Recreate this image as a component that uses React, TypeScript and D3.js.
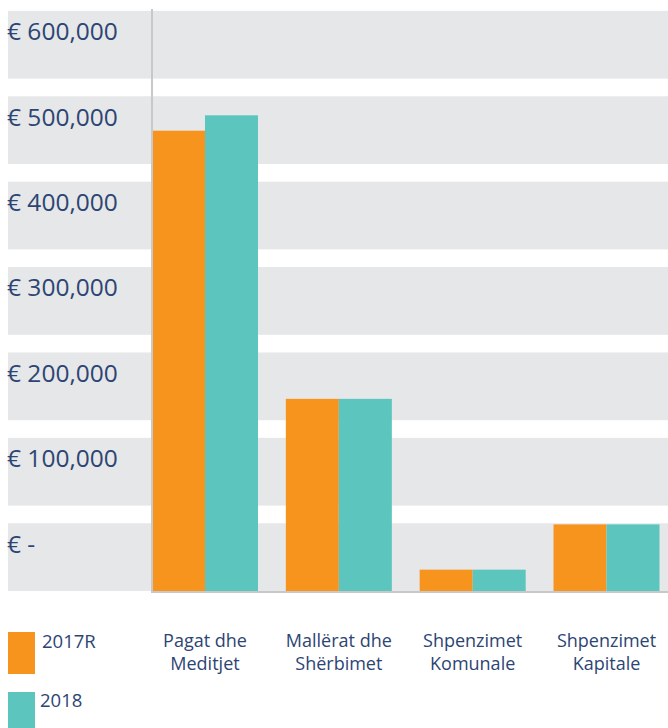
import React from "react";
import * as d3 from "d3";

const categories = [
  ["Pagat dhe", "Meditjet"],
  ["Mallërat dhe", "Shërbimet"],
  ["Shpenzimet", "Komunale"],
  ["Shpenzimet", "Kapitale"],
];
const seriesNames = ["2017R", "2018"];
const values2017R = [539000, 225000, 25000, 78000];
const values2018 = [557000, 225000, 25000, 78000];
const tickValues = [0, 100000, 200000, 300000, 400000, 500000, 600000];
const tickLabels = ["€ -", "€ 100,000", "€ 200,000", "€ 300,000", "€ 400,000", "€ 500,000", "€ 600,000"];

const W = 668;
const H = 728;
const COLORS = ["#F7941E", "#5BC5BE"];
const TEXT = "#2C4573";
const FONT = "'Open Sans', sans-serif";

export default function App() {
  const y = d3.scaleLinear().domain([0, 680000]).range([591, 591 - 680 * 0.854]);
  const x = d3
    .scaleBand<number>()
    .domain(d3.range(categories.length))
    .range([152, 659.5])
    .paddingInner(0.208)
    .paddingOuter(0);
  const xs = d3
    .scaleBand<number>()
    .domain([0, 1])
    .range([0, x.bandwidth()]);
  const series = [values2017R, values2018];

  return (
    <svg
      width={W}
      height={H}
      style={{ position: "absolute", left: 0, top: 0, display: "block" }}
      fontFamily={FONT}
    >
      {tickValues.map((t, i) => (
        <g key={i}>
          <rect
            x={8}
            width={W - 8}
            y={y(t + 79300)}
            height={y(t) - y(t + 79300)}
            fill="#E6E7E9"
          />
          <text x={7} y={y(t) - 38.5} fontSize={24.5} fill={TEXT}>
            {tickLabels[i]}
          </text>
        </g>
      ))}
      {series.map((vals, s) =>
        vals.map((v, i) => (
          <rect
            key={`${s}-${i}`}
            x={(x(i) as number) + (xs(s) as number)}
            width={xs.bandwidth()}
            y={y(v)}
            height={y(0) - y(v)}
            fill={COLORS[s]}
          />
        ))
      )}
      <line x1={152} x2={152} y1={9} y2={593} stroke="#C8C8C8" strokeWidth={2} />
      <line x1={151} x2={W} y1={592} y2={592} stroke="#C8C8C8" strokeWidth={2} />
      {categories.map((lines, i) => (
        <text
          key={i}
          x={(x(i) as number) + x.bandwidth() / 2}
          textAnchor="middle"
          fontSize={18}
          fill={TEXT}
        >
          <tspan x={(x(i) as number) + x.bandwidth() / 2} y={647}>
            {lines[0]}
          </tspan>
          <tspan x={(x(i) as number) + x.bandwidth() / 2} y={670}>
            {lines[1]}
          </tspan>
        </text>
      ))}
      <rect x={8} y={632} width={27} height={42} fill={COLORS[0]} />
      <text x={42} y={648} fontSize={18.5} fill={TEXT}>
        {seriesNames[0]}
      </text>
      <rect x={8} y={692} width={27} height={42} fill={COLORS[1]} />
      <text x={40} y={707} fontSize={18.5} fill={TEXT}>
        {seriesNames[1]}
      </text>
    </svg>
  );
}
